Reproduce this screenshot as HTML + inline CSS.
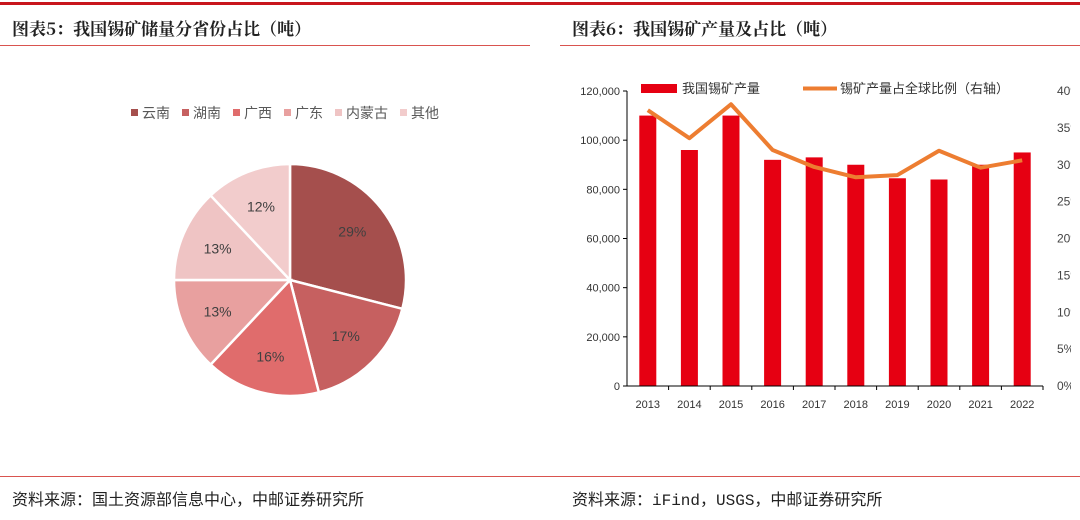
<!DOCTYPE html>
<html><head><meta charset="utf-8"><style>
body{margin:0;width:1080px;height:520px;overflow:hidden;background:#fff;font-family:"Liberation Sans","Noto Sans CJK SC",sans-serif;position:relative}
.t{position:absolute;font-family:"Noto Serif CJK SC","Liberation Serif",serif;font-weight:bold;font-size:17px;color:#222}
.f{position:absolute;font-family:"Liberation Mono","Noto Sans CJK SC",monospace;font-size:16px;color:#222;top:486px}
</style></head><body>
<div style="position:absolute;left:0;top:2px;width:1080px;height:3px;background:#c8161d"></div>
<div class="t" style="left:12px;top:15px">图表5：我国锡矿储量分省份占比（吨）</div>
<div class="t" style="left:572px;top:15px">图表6：我国锡矿产量及占比（吨）</div>
<div style="position:absolute;left:0;top:45px;width:530px;height:1px;background:#d9534f"></div>
<div style="position:absolute;left:560px;top:45px;width:520px;height:1px;background:#d9534f"></div>
<div style="position:absolute;left:0;top:476px;width:1080px;height:1px;background:#d9534f"></div>
<div class="f" style="left:12px">资料来源：国土资源部信息中心，中邮证券研究所</div>
<div class="f" style="left:572px">资料来源：iFind，USGS，中邮证券研究所</div>
<svg id="pie" width="540" height="470" style="position:absolute;left:0;top:0"></svg>
<svg id="bar" width="531" height="470" style="position:absolute;left:540px;top:0;overflow:hidden"></svg>
<script>
const NS="http://www.w3.org/2000/svg";
function mk(p,tag,a){const e=document.createElementNS(NS,tag);for(const k in a)e.setAttribute(k,a[k]);p.appendChild(e);return e;}
// Pie data
const provinces=["云南","湖南","广西","广东","内蒙古","其他"];
const shares=[29,17,16,13,13,12];
const pieColors=["#a54f4d","#c66060","#e06c6c","#e8a09f","#efc4c4","#f2cccc"];
const pie=document.getElementById('pie');
const cx=290,cy=280,r=116;
let total=shares.reduce((a,b)=>a+b,0),acc=0;
shares.forEach((v,i)=>{
  const a0=acc/total*2*Math.PI;acc+=v;const a1=acc/total*2*Math.PI;
  const x0=cx+r*Math.sin(a0),y0=cy-r*Math.cos(a0),x1=cx+r*Math.sin(a1),y1=cy-r*Math.cos(a1);
  const p=mk(pie,'path',{d:`M${cx},${cy}L${x0},${y0}A${r},${r} 0 ${a1-a0>Math.PI?1:0} 1 ${x1},${y1}Z`,fill:pieColors[i],stroke:'#fff','stroke-width':2.5});
  
  
  const am=(a0+a1)/2;
  const t=mk(pie,'text',{x:cx+r*0.68*Math.sin(am),y:cy-r*0.68*Math.cos(am)+5,'text-anchor':'middle','font-size':14,fill:'#404040'});
  t.textContent=v+'%';
  
  
});
let lx=131;
provinces.forEach((n,i)=>{
  const g=mk(pie,'g',{});
  
  
  mk(g,'rect',{x:lx,y:109,width:7,height:7,fill:pieColors[i]});
  const t=mk(g,'text',{x:lx+11,y:118,'font-size':14,fill:'#595959'});t.textContent=n;
  lx+=11+n.length*14+12;
});
// Bar data
const years=["2013","2014","2015","2016","2017","2018","2019","2020","2021","2022"];
const production=[110000,96000,110000,92000,93000,90000,84500,84000,90000,95000];
const sharePct=[37.4,33.6,38.2,32.0,29.7,28.3,28.6,31.9,29.6,30.6];
const leftTicks=[0,20000,40000,60000,80000,100000,120000];
const rightTicks=[0,5,10,15,20,25,30,35,40];
const b=document.getElementById('bar');
const X0=87,X1=503,Y0=386,Y1=91;
const yL=v=>Y0-(v/120000)*(Y0-Y1), yR=v=>Y0-(v/40)*(Y0-Y1);
const bw=(X1-X0)/years.length, xc=i=>X0+bw*(i+0.5);
leftTicks.forEach(v=>{
  mk(b,'line',{x1:X0-4,x2:X0,y1:yL(v),y2:yL(v),stroke:'#000'});
  const t=mk(b,'text',{x:X0-7,y:yL(v)+4,'text-anchor':'end','font-size':11,fill:'#333'});t.textContent=v.toLocaleString('en-US');
});
rightTicks.forEach(v=>{
  const t=mk(b,'text',{x:517,y:yR(v)+4,'font-size':12,fill:'#444'});t.textContent=v+'%';
});
production.forEach((v,i)=>{
  const rc=mk(b,'rect',{x:xc(i)-8.5,y:yL(v),width:17,height:Y0-yL(v),fill:'#e60012'});
  
  
  mk(b,'line',{x1:X0+bw*(i+1),x2:X0+bw*(i+1),y1:Y0,y2:Y0+4,stroke:'#000'});
  const t=mk(b,'text',{x:xc(i),y:Y0+22,'text-anchor':'middle','font-size':11,fill:'#333'});t.textContent=years[i];
});
mk(b,'line',{x1:X0,x2:X0,y1:Y1,y2:Y0,stroke:'#000'});
mk(b,'line',{x1:X0-4,x2:X1,y1:Y0,y2:Y0,stroke:'#000'});
const ln=mk(b,'polyline',{points:sharePct.map((v,i)=>xc(i)+','+yR(v)).join(' '),fill:'none',stroke:'#ed7d31','stroke-width':4,'stroke-linejoin':'round'});


const lg=mk(b,'g',{});


mk(lg,'rect',{x:101,y:84,width:36,height:9,fill:'#e60012'});
let t=mk(lg,'text',{x:142,y:93,'font-size':13,fill:'#333'});t.textContent='我国锡矿产量';
mk(lg,'line',{x1:263,x2:297,y1:88.5,y2:88.5,stroke:'#ed7d31','stroke-width':4});
t=mk(lg,'text',{x:300,y:93,'font-size':13,fill:'#333'});t.textContent='锡矿产量占全球比例（右轴）';
</script>
</body></html>
